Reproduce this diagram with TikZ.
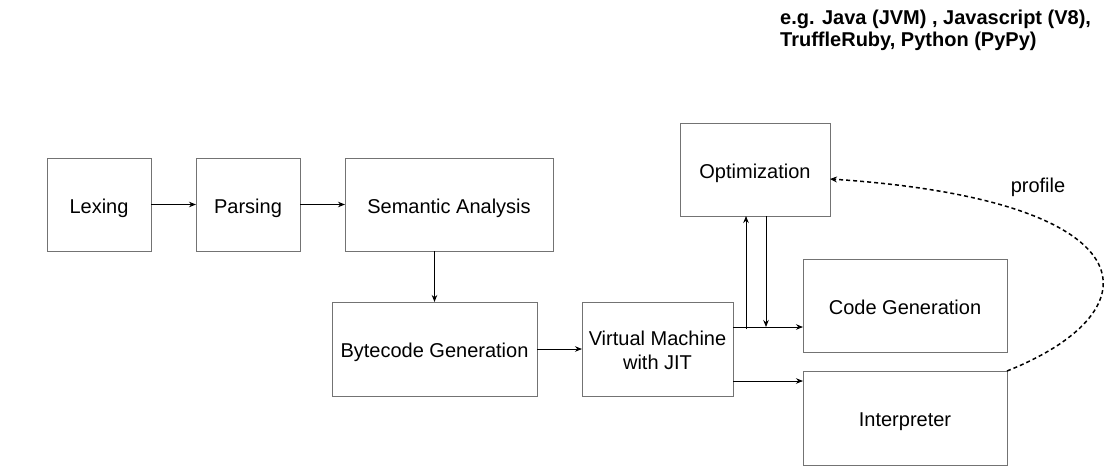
\documentclass[tikz,border=0pt]{standalone}
\usepackage{fontspec}
\setmainfont{Liberation Sans}
\usetikzlibrary{arrows.meta}
\begin{document}
\begin{tikzpicture}[x=1pt,y=-1pt,
  box/.style={draw=black!55, line width=0.9pt, rectangle, inner sep=0pt, outer sep=0pt, align=center, font=\fontsize{20}{24}\selectfont},
  oneline/.style={text height=17.5pt, text depth=0pt},
  arr/.style={draw=black, line width=1pt, -{Stealth[length=7pt,width=5.5pt]}},
  dasharr/.style={draw=black, line width=1.5pt, dash pattern=on 4pt off 3pt, -{Stealth[length=7pt,width=6pt]}}]
\useasboundingbox[fill=white] (0,0) rectangle (1113,474);
\node[box, oneline, minimum width=104pt, minimum height=93pt] (lex) at (99,204.5) {Lexing};
\node[box, oneline, minimum width=104pt, minimum height=93pt] (pars) at (248,204.5) {Parsing};
\node[box, oneline, minimum width=208pt, minimum height=93pt] (sem) at (449,204.5) {Semantic Analysis};
\node[box, oneline, minimum width=205pt, minimum height=94pt] (byte) at (434.5,349) {Bytecode Generation};
\node[box, minimum width=151pt, minimum height=94pt] (vm) at (657.5,349) {\rule{0pt}{17pt}Virtual Machine\\with JIT};
\node[box, oneline, minimum width=150pt, minimum height=93pt] (opt) at (755,169.5) {Optimization};
\node[box, oneline, minimum width=204pt, minimum height=93pt] (cg) at (905,305.5) {Code Generation};
\node[box, oneline, minimum width=204pt, minimum height=94pt] (interp) at (905,418) {Interpreter};
\node[font=\fontsize{20}{24}\selectfont] (prof) at (1038,187) {profile};
\node[anchor=north west, align=left, inner sep=0pt, font=\fontsize{20}{22}\bfseries\selectfont] (eg) at (780,10) {e.g. Java (JVM) , Javascript (V8),\\TruffleRuby, Python (PyPy)};

\draw[arr] (lex.east) -- (pars.west);
\draw[arr] (pars.east) -- (sem.west);
\draw[arr] (sem.south -| byte.north) -- (byte.north);
\draw[arr] (byte.east) -- (vm.west);
\coordinate (vmA) at ([yshift=22pt]vm.east);
\coordinate (vmB) at ([yshift=-32pt]vm.east);
\draw[arr] (vmA) -- (vmA -| cg.west);
\draw[arr] (vmB) -- (vmB -| interp.west);
\coordinate (upTop) at ([xshift=-9pt]opt.south);
\coordinate (dnTop) at ([xshift=11pt]opt.south);
\draw[arr] (upTop |- vmA) ++(0,2) -- (upTop);
\draw[arr] (dnTop) -- (dnTop |- vmA);
\coordinate (optIn) at ([yshift=-9.5pt]opt.east);
\draw[dasharr] (interp.north east) .. controls (1160,310) and (1150,200) .. (optIn);
\end{tikzpicture}
\end{document}
